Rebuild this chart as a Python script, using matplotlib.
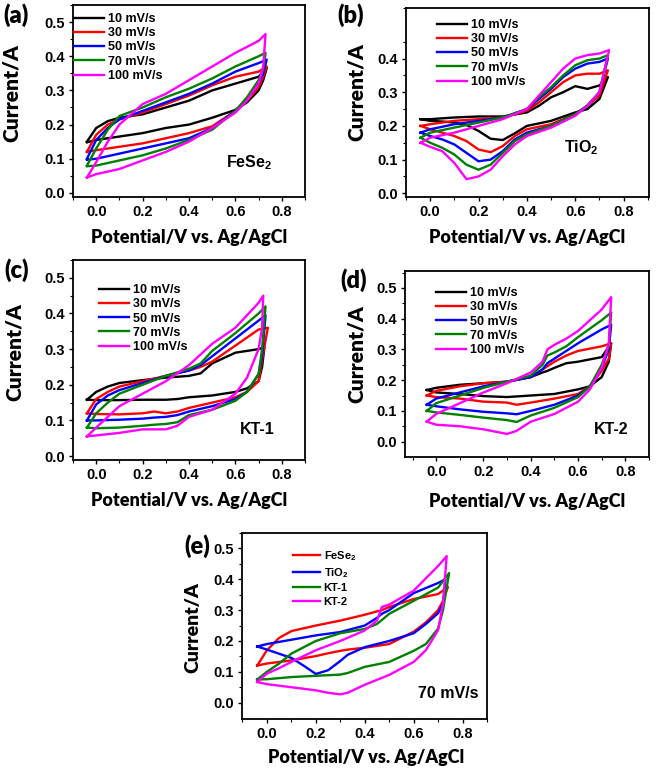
import numpy as np
import matplotlib
matplotlib.use("Agg")
import matplotlib.pyplot as plt

plt.rcParams['mathtext.fontset'] = 'custom'
plt.rcParams['mathtext.rm'] = 'Liberation Sans:bold'
plt.rcParams['mathtext.it'] = 'Liberation Sans:bold'
plt.rcParams['mathtext.bf'] = 'Liberation Sans:bold'

W, H = 661, 773

# ---------------- data ----------------
RATES = ['10 mV/s', '30 mV/s', '50 mV/s', '70 mV/s', '100 mV/s']
RATE_COLORS = ['black', '#ff0000', '#0000ff', '#008000', '#ff00ff']

# (a) FeSe2
FESE2_X_FWD = [-0.04, 0.0, 0.05, 0.1, 0.2, 0.3, 0.4, 0.5, 0.6, 0.7]
FESE2_X_REV = [0.72, 0.7, 0.65, 0.6, 0.5, 0.4, 0.3, 0.2, 0.1, 0.0, -0.04]
FESE2_TIP_X = [0.735, 0.735, 0.735, 0.73, 0.73]
FESE2_TIP_Y = [0.365, 0.37, 0.39, 0.41, 0.465]
FESE2_FWD = [
    [0.15, 0.19, 0.21, 0.22, 0.23, 0.25, 0.27, 0.30, 0.32, 0.34],
    [0.12, 0.17, 0.20, 0.215, 0.235, 0.26, 0.285, 0.315, 0.34, 0.355],
    [0.10, 0.155, 0.19, 0.215, 0.24, 0.265, 0.29, 0.32, 0.355, 0.38],
    [0.08, 0.13, 0.185, 0.225, 0.25, 0.28, 0.305, 0.335, 0.37, 0.40],
    [0.045, 0.09, 0.15, 0.20, 0.26, 0.29, 0.33, 0.37, 0.41, 0.445],
]
FESE2_REV = [
    [0.33, 0.30, 0.265, 0.243, 0.22, 0.20, 0.19, 0.175, 0.165, 0.155, 0.148],
    [0.34, 0.31, 0.27, 0.24, 0.195, 0.175, 0.16, 0.145, 0.135, 0.125, 0.12],
    [0.35, 0.32, 0.275, 0.24, 0.19, 0.16, 0.145, 0.13, 0.115, 0.10, 0.097],
    [0.36, 0.33, 0.28, 0.24, 0.185, 0.155, 0.13, 0.11, 0.095, 0.08, 0.078],
    [0.37, 0.32, 0.27, 0.235, 0.19, 0.15, 0.12, 0.095, 0.07, 0.055, 0.045],
]

# (b) TiO2
TIO2_X_FWD = [-0.04, 0.0, 0.1, 0.2, 0.3, 0.4, 0.45, 0.5, 0.55, 0.6, 0.65, 0.7]
TIO2_X_REV = [0.7, 0.65, 0.6, 0.5, 0.4, 0.35, 0.3, 0.25, 0.2, 0.15, 0.1, 0.05, 0.0, -0.04]
TIO2_TIP_X = [0.735, 0.735, 0.735, 0.735, 0.74]
TIO2_TIP_Y = [0.345, 0.365, 0.40, 0.41, 0.425]
TIO2_FWD = [
    [0.22, 0.22, 0.225, 0.228, 0.228, 0.24, 0.26, 0.285, 0.30, 0.318, 0.31, 0.32],
    [0.20, 0.205, 0.215, 0.22, 0.225, 0.245, 0.27, 0.30, 0.33, 0.35, 0.355, 0.355],
    [0.18, 0.19, 0.205, 0.215, 0.225, 0.25, 0.28, 0.31, 0.345, 0.37, 0.385, 0.39],
    [0.165, 0.18, 0.195, 0.21, 0.225, 0.25, 0.285, 0.315, 0.35, 0.38, 0.395, 0.40],
    [0.15, 0.165, 0.18, 0.20, 0.22, 0.25, 0.29, 0.33, 0.37, 0.40, 0.41, 0.415],
]
TIO2_REV = [
    [0.28, 0.25, 0.24, 0.215, 0.20, 0.178, 0.158, 0.162, 0.185, 0.203, 0.21, 0.213, 0.215, 0.22],
    [0.29, 0.26, 0.235, 0.205, 0.19, 0.17, 0.14, 0.122, 0.13, 0.155, 0.17, 0.18, 0.19, 0.20],
    [0.30, 0.26, 0.235, 0.20, 0.18, 0.16, 0.125, 0.10, 0.095, 0.12, 0.145, 0.16, 0.17, 0.18],
    [0.30, 0.26, 0.235, 0.20, 0.175, 0.155, 0.12, 0.085, 0.07, 0.085, 0.115, 0.135, 0.15, 0.165],
    [0.30, 0.26, 0.23, 0.195, 0.17, 0.145, 0.11, 0.07, 0.05, 0.042, 0.09, 0.125, 0.138, 0.15],
]

# (c) KT-1
KT1_X_FWD = [-0.04, 0.0, 0.05, 0.1, 0.2, 0.3, 0.4, 0.45, 0.5, 0.6, 0.7]
KT1_X_REV = [0.715, 0.7, 0.65, 0.6, 0.5, 0.4, 0.35, 0.3, 0.25, 0.2, 0.1, 0.0, -0.04]
KT1_TIP_X = [0.725, 0.74, 0.73, 0.73, 0.72]
KT1_TIP_Y = [0.305, 0.36, 0.395, 0.42, 0.45]
KT1_FWD = [
    [0.158, 0.18, 0.195, 0.205, 0.213, 0.22, 0.225, 0.232, 0.26, 0.29, 0.30],
    [0.12, 0.16, 0.18, 0.195, 0.21, 0.225, 0.24, 0.25, 0.265, 0.31, 0.355],
    [0.10, 0.145, 0.17, 0.185, 0.205, 0.225, 0.24, 0.255, 0.28, 0.33, 0.38],
    [0.08, 0.12, 0.15, 0.175, 0.20, 0.225, 0.245, 0.26, 0.295, 0.345, 0.40],
    [0.055, 0.08, 0.11, 0.14, 0.175, 0.21, 0.255, 0.285, 0.315, 0.36, 0.43],
]
KT1_REV = [
    [0.25, 0.21, 0.19, 0.18, 0.17, 0.165, 0.16, 0.158, 0.158, 0.158, 0.157, 0.157, 0.158],
    [0.27, 0.21, 0.18, 0.165, 0.15, 0.135, 0.125, 0.12, 0.125, 0.12, 0.117, 0.118, 0.12],
    [0.28, 0.23, 0.18, 0.16, 0.14, 0.125, 0.115, 0.11, 0.108, 0.105, 0.102, 0.10, 0.10],
    [0.30, 0.23, 0.18, 0.155, 0.13, 0.115, 0.095, 0.09, 0.088, 0.085, 0.08, 0.078, 0.08],
    [0.36, 0.30, 0.22, 0.175, 0.13, 0.11, 0.085, 0.075, 0.075, 0.075, 0.065, 0.058, 0.055],
]

# (d) KT-2
KT2_X_FWD = [-0.04, 0.0, 0.1, 0.2, 0.3, 0.4, 0.45, 0.47, 0.5, 0.55, 0.6, 0.7]
KT2_X_REV = [0.73, 0.7, 0.65, 0.6, 0.5, 0.4, 0.34, 0.3, 0.2, 0.1, 0.0, -0.04]
KT2_TIP_X = [0.74, 0.74, 0.74, 0.74, 0.74]
KT2_TIP_Y = [0.32, 0.32, 0.38, 0.42, 0.47]
KT2_FWD = [
    [0.168, 0.175, 0.185, 0.19, 0.195, 0.21, 0.225, 0.23, 0.24, 0.255, 0.26, 0.275],
    [0.15, 0.165, 0.18, 0.19, 0.195, 0.21, 0.235, 0.245, 0.26, 0.28, 0.295, 0.31],
    [0.12, 0.14, 0.16, 0.18, 0.195, 0.21, 0.235, 0.255, 0.27, 0.295, 0.32, 0.365],
    [0.10, 0.125, 0.15, 0.175, 0.195, 0.215, 0.25, 0.28, 0.29, 0.31, 0.34, 0.395],
    [0.065, 0.09, 0.125, 0.16, 0.19, 0.225, 0.26, 0.30, 0.315, 0.335, 0.36, 0.43],
]
KT2_REV = [
    [0.26, 0.21, 0.18, 0.17, 0.155, 0.15, 0.147, 0.145, 0.148, 0.155, 0.16, 0.168],
    [0.27, 0.23, 0.18, 0.155, 0.14, 0.127, 0.12, 0.127, 0.13, 0.14, 0.145, 0.15],
    [0.30, 0.24, 0.18, 0.15, 0.12, 0.10, 0.089, 0.092, 0.097, 0.105, 0.115, 0.12],
    [0.31, 0.25, 0.18, 0.145, 0.11, 0.085, 0.064, 0.07, 0.078, 0.087, 0.095, 0.10],
    [0.32, 0.24, 0.17, 0.13, 0.09, 0.065, 0.035, 0.025, 0.04, 0.05, 0.055, 0.065],
]

# (e) comparison at 70 mV/s
SAMPLES = ['FeSe$_2$', 'TiO$_2$', 'KT-1', 'KT-2']
SAMPLE_COLORS = ['#ff0000', '#0000ff', '#008000', '#ff00ff']
CMP_X_FWD = [-0.04, 0.0, 0.05, 0.1, 0.2, 0.3, 0.4, 0.45, 0.47, 0.5, 0.6, 0.7]
CMP_X_REV = [0.72, 0.7, 0.65, 0.6, 0.5, 0.4, 0.33, 0.3, 0.25, 0.2, 0.15, 0.1, 0.0, -0.04]
CMP_TIP_X = [0.74, 0.73, 0.745, 0.735]
CMP_TIP_Y = [0.375, 0.40, 0.42, 0.475]
CMP_FWD = [
    [0.12, 0.17, 0.21, 0.232, 0.25, 0.266, 0.285, 0.296, 0.30, 0.31, 0.336, 0.352],
    [0.182, 0.19, 0.197, 0.204, 0.218, 0.229, 0.25, 0.275, 0.288, 0.30, 0.355, 0.388],
    [0.075, 0.10, 0.127, 0.159, 0.20, 0.225, 0.239, 0.255, 0.268, 0.288, 0.33, 0.373],
    [0.067, 0.094, 0.112, 0.132, 0.17, 0.20, 0.234, 0.266, 0.31, 0.318, 0.363, 0.443],
]
CMP_REV = [
    [0.33, 0.30, 0.26, 0.23, 0.19, 0.178, 0.172, 0.168, 0.16, 0.151, 0.144, 0.137, 0.127, 0.12],
    [0.32, 0.29, 0.255, 0.225, 0.20, 0.18, 0.155, 0.135, 0.105, 0.093, 0.12, 0.145, 0.172, 0.182],
    [0.30, 0.24, 0.19, 0.168, 0.132, 0.116, 0.096, 0.091, 0.089, 0.087, 0.085, 0.083, 0.076, 0.075],
    [0.32, 0.235, 0.17, 0.132, 0.09, 0.058, 0.032, 0.027, 0.032, 0.04, 0.045, 0.05, 0.06, 0.067],
]

# ---------------- figure ----------------
TICK_FONT = 'Liberation Sans'
LABEL_FONT = 'Lato'

fig = plt.figure(figsize=(W / 100, H / 100), dpi=100)


def box(l, r, t, b):
    return [l / W, 1 - b / H, (r - l) / W, (b - t) / H]


def loop(x_fwd, y_fwd, tx, ty, x_rev, y_rev):
    x = list(x_fwd) + [tx] + list(x_rev)
    y = list(y_fwd) + [ty] + list(y_rev)
    return np.array(x), np.array(y)


def make_panel(rect, xlim, ylim, ymax_tick, letter, letter_xy, ylab_xy, xlab_xy, ylab_size=15):
    ax = fig.add_axes(box(*rect))
    l, r, t, b = rect
    ax.set_xlim(*xlim)
    ax.set_ylim(*ylim)
    ax.set_xticks(np.arange(0, 0.81, 0.2))
    ax.set_xticks(np.arange(-0.1, 0.91, 0.1), minor=True)
    ax.set_yticks(np.arange(0, ymax_tick + 0.001, 0.1))
    ax.set_yticks(np.arange(0.05, 0.6, 0.1), minor=True)
    ax.xaxis.set_major_formatter(matplotlib.ticker.FormatStrFormatter('%.1f'))
    ax.yaxis.set_major_formatter(matplotlib.ticker.FormatStrFormatter('%.1f'))
    ax.tick_params(which='major', direction='out', length=3, width=1, pad=3,
                   labelsize=10.5, top=False, right=False)
    ax.tick_params(which='minor', direction='out', length=2, width=0.8,
                   top=False, right=False)
    for lab in ax.get_xticklabels() + ax.get_yticklabels():
        lab.set_fontfamily(TICK_FONT)
        lab.set_fontweight('bold')
    for sp in ax.spines.values():
        sp.set_linewidth(1.3)
    ax.set_ylabel('Current/A', fontsize=ylab_size, fontfamily=LABEL_FONT,
                  fontweight='heavy', va='center')
    ax.yaxis.set_label_coords((ylab_xy[0] - l) / (r - l), (b - ylab_xy[1]) / (b - t))
    ax.set_xlabel('Potential/V vs. Ag/AgCl', fontsize=13, fontfamily=LABEL_FONT,
                  fontweight='heavy', va='center')
    ax.xaxis.set_label_coords((xlab_xy[0] - l) / (r - l), (b - xlab_xy[1]) / (b - t))
    fig.text(letter_xy[0] / W, 1 - letter_xy[1] / H, letter, fontsize=17,
             fontfamily=LABEL_FONT, fontweight='heavy', ha='center', va='center')
    return ax


def note(ax, rect, xy, s, size=11.5):
    l, r, t, b = rect
    ax.text((xy[0] - l) / (r - l), (b - xy[1]) / (b - t), s, transform=ax.transAxes,
            fontsize=size, fontfamily=TICK_FONT, fontweight='bold',
            ha='center', va='center')


def add_legend(ax, hx, hy, size=9, spacing=0.18):
    ax.legend(loc='upper left', bbox_to_anchor=(hx / W, 1 - (hy - 4) / H),
              bbox_transform=fig.transFigure, frameon=False, borderpad=0,
              borderaxespad=0, handlelength=2.4, handletextpad=0.35,
              labelspacing=spacing,
              prop={'family': TICK_FONT, 'weight': 'bold', 'size': size})


panels = [
    # rect, xlim, ylim, ymax tick, letter, letter pos, ylabel pos, xlabel pos,
    # data, legend pos, note
    ((73, 305, 5, 197), (-0.053, 0.89), (-0.012, 0.51), 0.5, '(a)', (16, 15), (11, 93), (189, 237),
     (FESE2_X_FWD, FESE2_FWD, FESE2_TIP_X, FESE2_TIP_Y, FESE2_X_REV, FESE2_REV),
     (74, 17), ((249, 163), 'FeSe$_2$')),
    ((406, 649, 8, 197), (-0.084, 0.905), (-0.011, 0.477), 0.4, '(b)', (351, 15), (356, 92), (527, 237),
     (TIO2_X_FWD, TIO2_FWD, TIO2_TIP_X, TIO2_TIP_Y, TIO2_X_REV, TIO2_REV),
     (437, 23), ((581, 148), 'TiO$_2$')),
    ((73, 305, 260, 460), (-0.053, 0.89), (-0.011, 0.534), 0.5, '(c)', (17, 270), (14, 352), (189, 500),
     (KT1_X_FWD, KT1_FWD, KT1_TIP_X, KT1_TIP_Y, KT1_X_REV, KT1_REV),
     (99, 288), ((257, 429), 'KT-1')),
    ((405, 649, 271, 457), (-0.132, 0.805), (-0.05, 0.555), 0.5, '(d)', (354, 280), (356, 354), (527, 502),
     (KT2_X_FWD, KT2_FWD, KT2_TIP_X, KT2_TIP_Y, KT2_X_REV, KT2_REV),
     (436, 291), ((611, 429), 'KT-2')),
]

for rect, xlim, ylim, ymt, letter, lxy, ylxy, xlxy, data, legxy, (nxy, ntext) in panels:
    ax = make_panel(rect, xlim, ylim, ymt, letter, lxy, ylxy, xlxy)
    xf, yf, tx, ty, xr, yr = data
    for i, (name, col) in enumerate(zip(RATES, RATE_COLORS)):
        x, y = loop(xf, yf[i], tx[i], ty[i], xr, yr[i])
        ax.plot(x, y, color=col, lw=1.7, label=name)
    add_legend(ax, legxy[0], legxy[1])
    note(ax, rect, nxy, ntext)

rect_e = (242, 487, 533, 719)
ax = make_panel(rect_e, (-0.102, 0.806), (-0.053, 0.547), 0.5, '(e)', (197, 546), (193, 628), (366, 758),
                ylab_size=14)
for i, (name, col) in enumerate(zip(SAMPLES, SAMPLE_COLORS)):
    x, y = loop(CMP_X_FWD, CMP_FWD[i], CMP_TIP_X[i], CMP_TIP_Y[i], CMP_X_REV, CMP_REV[i])
    ax.plot(x, y, color=col, lw=1.7, label=name)
add_legend(ax, 293, 553, size=8, spacing=0.3)
note(ax, rect_e, (448, 693), '70 mV/s')

fig.savefig('out.png', dpi=100)
